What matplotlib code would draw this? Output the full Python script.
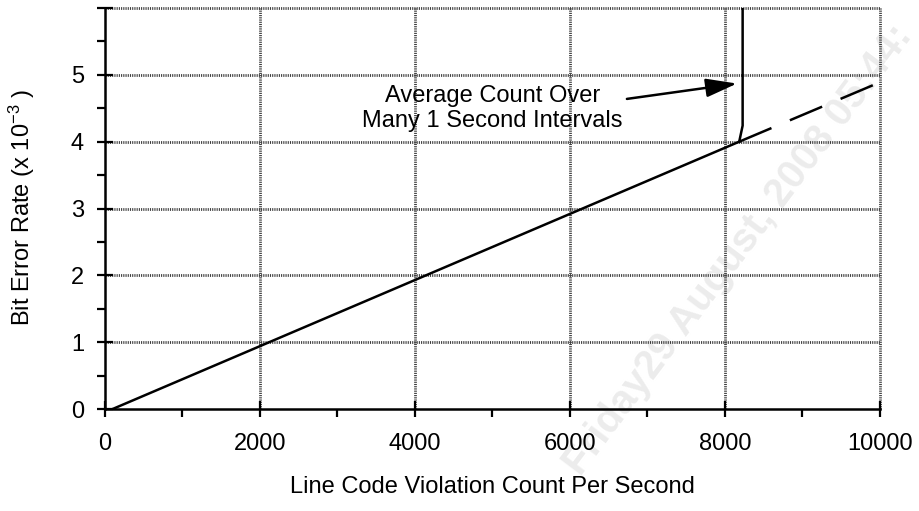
import matplotlib
matplotlib.use('Agg')
import matplotlib.pyplot as plt
from matplotlib.ticker import MultipleLocator

# Data
lcv_solid = [100, 8184]          # line code violations per second
ber_solid = [0.0, 4.0]           # bit error rate (x 10^-3)
lcv_dashed = [8184, 9960]
ber_dashed = [4.0, 4.87]
lcv_average = [8184, 8228, 8228]
ber_average = [4.0, 4.24, 6.0]

x_ticks = [0, 2000, 4000, 6000, 8000, 10000]
x_tick_labels = ['0', '2000', '4000', '6000', '8000', '10000']
y_ticks = [0, 1, 2, 3, 4, 5, 6]
y_tick_labels = ['0', '1', '2', '3', '4', '5', '']

note_text = 'Average Count Over\nMany 1 Second Intervals'
note_pos = (5000, 4.5)
arrow_tail = (6735, 4.64)
arrow_head = (8155, 4.87)

plt.rcParams['font.family'] = ['Liberation Sans', 'DejaVu Sans']
plt.rcParams['mathtext.default'] = 'regular'

fig = plt.figure(figsize=(9.2, 5.11), dpi=100)
ax = fig.add_axes([0.114, 0.1996, 0.8425, 0.7847])
ax.set_xlim(0, 10000)
ax.set_ylim(0, 6)

# faint watermark, behind everything
ax.patch.set_visible(False)
fig.text(738 / 920, 1 - 250 / 511, 'Friday29 August, 2008 05:44:',
         fontsize=29, fontweight='bold', color='#ececec',
         rotation=53, ha='center', va='center', zorder=-1)

# dotted grey grid, the top / right gridlines act as the frame
grid_style = dict(color='#3c3c3c', lw=2.0, ls=(0, (0.4, 0.4)), zorder=1,
                  clip_on=False)
for gx in x_ticks[1:]:
    ax.axvline(gx, **grid_style)
for gy in y_ticks[1:]:
    ax.axhline(gy, **grid_style)

ax.plot(lcv_solid, ber_solid, color='black', lw=1.8, zorder=3)
ax.plot(lcv_dashed, ber_dashed, color='black', lw=1.8, zorder=3,
        dashes=(14, 8))
ax.plot(lcv_average, ber_average, color='black', lw=1.8, zorder=3,
        solid_joinstyle='round')

ax.annotate('', xy=arrow_head, xytext=arrow_tail,
            arrowprops=dict(arrowstyle='-|>,head_length=1.0,head_width=0.3',
                            lw=1.8, color='black', shrinkA=0, shrinkB=0,
                            mutation_scale=19), zorder=4)
ax.text(note_pos[0], note_pos[1], note_text, fontsize=17, ha='center',
        va='center', multialignment='center', linespacing=1.2, zorder=4)

for side in ['top', 'right']:
    ax.spines[side].set_visible(False)
for side in ['left', 'bottom']:
    ax.spines[side].set_linewidth(1.8)
    ax.spines[side].set_zorder(5)

ax.set_xticks(x_ticks)
ax.set_xticklabels(x_tick_labels)
ax.set_yticks(y_ticks)
ax.set_yticklabels(y_tick_labels)
ax.xaxis.set_minor_locator(MultipleLocator(1000))
ax.yaxis.set_minor_locator(MultipleLocator(0.5))
ax.tick_params(which='major', direction='inout', length=12, width=1.6,
               labelsize=17)
ax.tick_params(which='minor', direction='out', length=6, width=1.6)
ax.tick_params(axis='x', which='major', pad=11)
ax.tick_params(axis='y', which='major', pad=9)

fig.text(22 / 920, 1 - 208 / 511, 'Bit Error Rate (x 10$^{-3}$ )',
         fontsize=17, rotation=90, ha='center', va='center')
fig.text(492 / 920, 1 - 487 / 511, 'Line Code Violation Count Per Second',
         fontsize=17, ha='center', va='center')

fig.savefig('out.png', dpi=100)
